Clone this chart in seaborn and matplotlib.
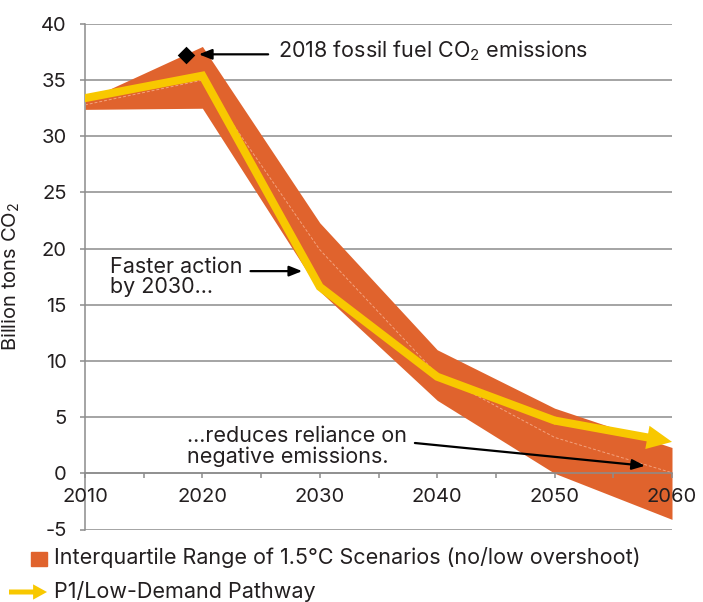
import numpy as np
import pandas as pd

import seaborn as sns
import matplotlib.pyplot as plt
from matplotlib.patches import Rectangle


# data
years = [2010, 2020, 2030, 2040, 2050, 2060]
iqr_low = [32.4, 32.5, 16.2, 6.5, 0.0, -4.1]
iqr_high = [33.2, 38.0, 22.3, 11.0, 5.8, 2.3]
iqr_median = [32.8, 35.0, 19.9, 8.8, 3.2, 0.05]
p1_values = [33.4, 35.4, 16.6, 8.6, 4.7, 2.8]

emis_2018_year = [2018.6]
emis_2018_value = [37.2]

x_major = [2010, 2020, 2030, 2040, 2050, 2060]
x_minor = [2015, 2025, 2035, 2045, 2055]
y_ticks = [-5, 0, 5, 10, 15, 20, 25, 30, 35, 40]

ORANGE = "#E0632D"
YELLOW = "#F8C800"
GRID = "#8c8c8c"
TXT = "#231f20"
FS = 15.5      # annotations / legend
FS_TICK = 14.5

sns.set_style("white")
plt.rcParams["font.family"] = ["Inter", "DejaVu Sans"]
plt.rcParams["mathtext.fontset"] = "custom"
plt.rcParams["mathtext.rm"] = "Inter"
plt.rcParams["mathtext.default"] = "regular"

df = pd.DataFrame({"year": years, "low": iqr_low, "high": iqr_high,
    "median": iqr_median, "p1": p1_values})

fig = plt.figure(figsize=(7.03, 6.02), dpi=100)
ax = fig.add_axes([85/703, 1 - 529.5/602, (672 - 85)/703, 505.5/602])
ax.grid(False)
ax.set_axisbelow(False)

# horizontal grid under everything
for yv in y_ticks:
    ax.axhline(yv, color=GRID, lw=1.1, zorder=0.2)

# Interquartile band + faint median
ax.fill_between(df["year"], df["low"], df["high"], color=ORANGE, lw=0, zorder=1.2)
sns.lineplot(data=df, x="year", y="median", color="#f3a27e", lw=0.7,
    ax=ax, zorder=1.5, dashes=False)
ax.lines[-1].set_dashes([3, 2])

# P1 pathway (last segment drawn as arrow)
sns.lineplot(data=df.iloc[:-1], x="year", y="p1", color=YELLOW, lw=5.8,
    ax=ax, zorder=3, solid_capstyle="round", solid_joinstyle="miter")
ax.annotate("", xy=(years[-1], p1_values[-1]), xytext=(years[-2], p1_values[-2]),
    arrowprops=dict(arrowstyle="simple,head_length=18,head_width=17,tail_width=5.8",
        mutation_scale=1, fc=YELLOW, ec="none", lw=0, shrinkA=0, shrinkB=0),
    zorder=3)

# 2018 emissions marker
sns.scatterplot(x=emis_2018_year, y=emis_2018_value, marker="D", s=80,
    color="black", ax=ax, zorder=4, linewidth=0)

# annotations
arrow_kw = dict(arrowstyle="-|>,head_length=0.55,head_width=0.22", mutation_scale=14,
    color="black", lw=1.6, shrinkA=0, shrinkB=0)
ax.annotate("", xy=(2019.7, 37.3), xytext=(2025.6, 37.3), arrowprops=arrow_kw)
ax.text(2026.4, 37.6, "2018 fossil fuel CO$_2$ emissions", fontsize=FS,
    color=TXT, va="center", ha="left")
ax.annotate("", xy=(2028.5, 18.0), xytext=(2024.1, 18.0), arrowprops=arrow_kw)
ax.text(2012.1, 17.5, "Faster action\nby 2030...", fontsize=FS, color=TXT,
    va="center", ha="left", linespacing=1.0)
ax.annotate("", xy=(2057.7, 0.67), xytext=(2038.1, 2.7), arrowprops=arrow_kw)
ax.text(2018.7, 2.4, "...reduces reliance on\nnegative emissions.", fontsize=FS,
    color=TXT, va="center", ha="left", linespacing=1.0)

# axes styling
ax.set_xlim(2010, 2060)
ax.set_ylim(-5, 40)
ax.set_xticks(x_major)
ax.set_xticks(x_minor, minor=True)
ax.set_yticks(y_ticks)
ax.set_xticklabels([str(v) for v in x_major])
ax.set_yticklabels([str(v) for v in y_ticks])
ax.spines["top"].set_visible(False)
ax.spines["right"].set_visible(False)
ax.spines["left"].set_color(GRID)
ax.spines["left"].set_linewidth(1.1)
ax.spines["bottom"].set_color(GRID)
ax.spines["bottom"].set_linewidth(1.1)
ax.spines["bottom"].set_position(("data", 0))
ax.tick_params(axis="y", length=3.6, width=1.1, color=GRID, pad=9.5,
    labelsize=FS_TICK, labelcolor=TXT, left=True)
ax.tick_params(axis="x", which="both", direction="out", length=3.6, width=1.1,
    color=GRID, pad=7, labelsize=FS_TICK, labelcolor=TXT, bottom=True)
ax.set_xlabel("")
ax.set_ylabel("Billion tons CO$_2$", fontsize=FS_TICK, color=TXT)
ax.yaxis.set_label_coords(-0.107, 0.5)

# legend drawn by hand under the plot
fig.patches.append(Rectangle((31/703, 1 - 566/602), 16/703, 14/602,
    transform=fig.transFigure, color=ORANGE, zorder=5))
fig.text(54/703, 1 - 558/602, "Interquartile Range of 1.5\u00b0C Scenarios (no/low overshoot)",
    fontsize=FS, color=TXT, va="center", ha="left")
ax.annotate("", xy=(47/703, 1 - 592/602), xytext=(9/703, 1 - 592/602),
    xycoords="figure fraction", textcoords="figure fraction",
    arrowprops=dict(arrowstyle="simple,head_length=10,head_width=11,tail_width=3.6",
        mutation_scale=1, fc=YELLOW, ec="none", lw=0, shrinkA=0, shrinkB=0),
    annotation_clip=False)
fig.text(54/703, 1 - 591/602, "P1/Low-Demand Pathway", fontsize=FS,
    color=TXT, va="center", ha="left")

fig.savefig("out.png", dpi=100)
